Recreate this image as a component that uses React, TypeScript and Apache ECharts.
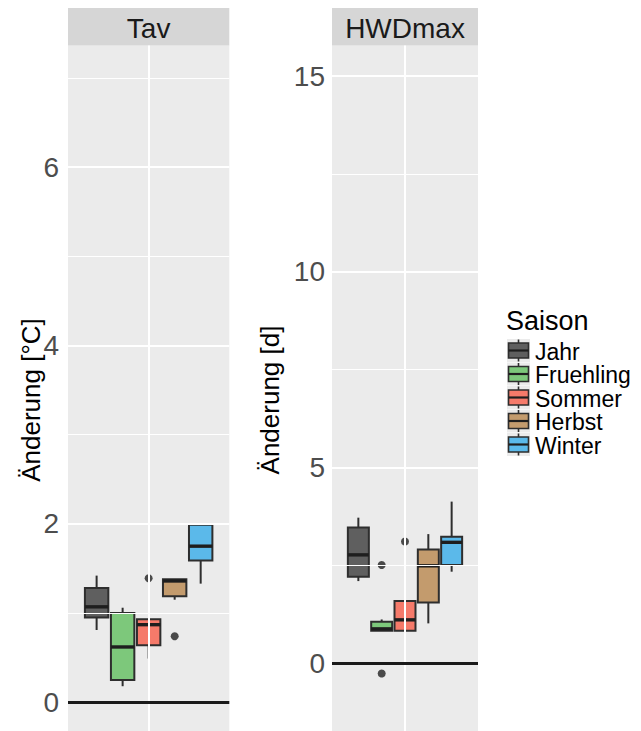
import React, { useEffect, useRef } from 'react';
import * as echarts from 'echarts';

// ---------- data ----------
const seasons = ['Jahr', 'Fruehling', 'Sommer', 'Herbst', 'Winter'];
const seasonColors = ['#5F5F5F', '#7DC87B', '#F57A6A', '#C39B6D', '#5BB9EA'];

// Tav  (Änderung [°C])
const tavLow = [0.81, 0.18, 0.49, 1.15, 1.33];
const tavQ1 = [0.95, 0.25, 0.64, 1.19, 1.59];
const tavMed = [1.07, 0.62, 0.87, 1.36, 1.75];
const tavQ3 = [1.28, 1.0, 0.93, 1.38, 1.99];
const tavHigh = [1.42, 1.06, 0.93, 1.38, 2.01];
const tavOutSeason = ['Sommer', 'Herbst'];
const tavOutValue = [1.39, 0.74];
const tavTicks = [0, 2, 4, 6];
const tavMinor = [1, 3, 5, 7];

// HWDmax (Änderung [d])
const hwdLow = [2.1, 0.83, 0.37, 1.02, 2.34];
const hwdQ1 = [2.21, 0.83, 0.83, 1.55, 2.51];
const hwdMed = [2.77, 0.88, 1.11, 2.49, 3.09];
const hwdQ3 = [3.47, 1.06, 1.59, 2.91, 3.23];
const hwdHigh = [3.72, 1.12, 1.69, 3.3, 4.13];
const hwdOutSeason = ['Fruehling', 'Fruehling', 'Sommer'];
const hwdOutValue = [2.51, -0.26, 3.11];
const hwdTicks = [0, 5, 10, 15];
const hwdMinor = [2.5, 7.5, 12.5];

const panelTitles = ['Tav', 'HWDmax'];
const axisTitles = ['Änderung [°C]', 'Änderung [d]'];
const legendTitle = 'Saison';

// ---------- styling ----------
const FONT = '"Liberation Sans", Arial, Helvetica, sans-serif';
const EDGE = '#2E2E2E';
const PANEL_BG = '#EBEBEB';
const STRIP_BG = '#D6D6D6';

const panels = [
  { left: 68, width: 161.3, xr: 3.1 },
  { left: 332, width: 146, xr: 3.13 },
];
const PANEL_TOP = 45.5;

function seasonPos(name: string) {
  return seasons.indexOf(name) - 2;
}

function boxData(low: number[], q1: number[], med: number[], q3: number[], high: number[]) {
  return seasons.map((s, i) => [seasonPos(s), low[i], q1[i], med[i], q3[i], high[i], i]);
}

function renderBox(params: any, api: any) {
  const x = api.value(0) as number;
  const ci = api.value(6) as number;
  const pLow = api.coord([x, api.value(1)]);
  const pQ1 = api.coord([x, api.value(2)]);
  const pMed = api.coord([x, api.value(3)]);
  const pQ3 = api.coord([x, api.value(4)]);
  const pHigh = api.coord([x, api.value(5)]);
  const w = api.size([0.9, 0])[0];
  const cx = pMed[0];
  const l = cx - w / 2;
  return {
    type: 'group',
    children: [
      { type: 'line', shape: { x1: cx, y1: pHigh[1], x2: cx, y2: pQ3[1] }, style: { stroke: EDGE, lineWidth: 2 } },
      { type: 'line', shape: { x1: cx, y1: pQ1[1], x2: cx, y2: pLow[1] }, style: { stroke: EDGE, lineWidth: 2 } },
      {
        type: 'rect',
        shape: { x: l, y: pQ3[1], width: w, height: pQ1[1] - pQ3[1] },
        style: { fill: seasonColors[ci], stroke: EDGE, lineWidth: 2 },
      },
      { type: 'line', shape: { x1: l, y1: pMed[1], x2: l + w, y2: pMed[1] }, style: { stroke: '#1E1E1E', lineWidth: 3.4 } },
    ],
  };
}

function helperSeries(idx: number, major: number[], minor: number[]) {
  const data: any[] = [];
  minor.forEach((v) => data.push({ yAxis: v, lineStyle: { color: '#FFFFFF', width: 1, type: 'solid' } }));
  major.forEach((v) => data.push({ yAxis: v, lineStyle: { color: '#FFFFFF', width: 2, type: 'solid' } }));
  data.push({ xAxis: 0, lineStyle: { color: '#FFFFFF', width: 2, type: 'solid' } });
  data.push({ yAxis: 0, lineStyle: { color: '#1A1A1A', width: 2.8, type: 'solid' } });
  return {
    type: 'line',
    xAxisIndex: idx,
    yAxisIndex: idx,
    data: [],
    z: 1,
    silent: true,
    markLine: {
      silent: true,
      symbol: ['none', 'none'],
      label: { show: false },
      emphasis: { disabled: true },
      animation: false,
      data,
    },
  };
}

function yAxisCfg(idx: number, min: number, max: number, ticks: number[], margin: number) {
  return {
    gridIndex: idx,
    type: 'value',
    min,
    max,
    axisLine: { show: false },
    axisTick: { show: true, length: 4, customValues: ticks, lineStyle: { color: EDGE, width: 1 } },
    axisLabel: { customValues: ticks, margin, fontSize: 28, color: '#4D4D4D', fontFamily: FONT },
    splitLine: { show: false },
  };
}

function buildOption() {
  const graphics: any[] = [];
  panels.forEach((p, i) => {
    graphics.push({
      type: 'rect',
      shape: { x: p.left, y: 8, width: p.width, height: PANEL_TOP - 8 },
      style: { fill: STRIP_BG },
      silent: true,
    });
    graphics.push({
      type: 'text',
      x: p.left + p.width / 2,
      y: 28,
      style: { text: panelTitles[i], font: `28px ${FONT}`, fill: '#1A1A1A', align: 'center', verticalAlign: 'middle' },
      silent: true,
    });
  });
  const titleX = [31, 270];
  axisTitles.forEach((t, i) => {
    graphics.push({
      type: 'text',
      x: titleX[i],
      y: 400,
      rotation: Math.PI / 2,
      style: { text: t, font: `26px ${FONT}`, fill: '#000000', align: 'center', verticalAlign: 'middle' },
      silent: true,
    });
  });
  // legend
  graphics.push({
    type: 'text',
    x: 506,
    y: 321,
    style: { text: legendTitle, font: `27px ${FONT}`, fill: '#000000', align: 'left', verticalAlign: 'middle' },
    silent: true,
  });
  seasons.forEach((s, i) => {
    const cy = 350.5 + i * 23.5;
    graphics.push({
      type: 'group',
      silent: true,
      children: [
        { type: 'rect', shape: { x: 507, y: cy - 11.5, width: 23, height: 23 }, style: { fill: '#EBEBEB' } },
        { type: 'line', shape: { x1: 518.5, y1: cy - 11, x2: 518.5, y2: cy + 11 }, style: { stroke: EDGE, lineWidth: 1.6 } },
        {
          type: 'rect',
          shape: { x: 508.5, y: cy - 7.5, width: 20, height: 15 },
          style: { fill: seasonColors[i], stroke: EDGE, lineWidth: 1.6 },
        },
        { type: 'line', shape: { x1: 508.5, y1: cy, x2: 528.5, y2: cy }, style: { stroke: '#1E1E1E', lineWidth: 2.2 } },
        {
          type: 'text',
          x: 535,
          y: cy + 1,
          style: {
            text: s,
            font: `23px ${FONT}`,
            lineHeight: 20,
            fill: '#000000',
            align: 'left',
            verticalAlign: 'middle',
          },
        },
      ],
    });
  });

  return {
    animation: false,
    backgroundColor: '#FFFFFF',
    grid: panels.map((p) => ({
      left: p.left,
      top: PANEL_TOP,
      width: p.width,
      bottom: 0,
      show: true,
      backgroundColor: PANEL_BG,
      borderWidth: 0,
      containLabel: false,
    })),
    xAxis: panels.map((p, i) => ({ gridIndex: i, type: 'value', min: -p.xr, max: p.xr, show: false })),
    yAxis: [yAxisCfg(0, -0.322, 7.363, tavTicks, 9), yAxisCfg(1, -1.729, 15.78, hwdTicks, 7)],
    series: [
      helperSeries(0, tavTicks, tavMinor),
      helperSeries(1, hwdTicks, hwdMinor),
      {
        type: 'custom',
        xAxisIndex: 0,
        yAxisIndex: 0,
        z: 3,
        data: boxData(tavLow, tavQ1, tavMed, tavQ3, tavHigh),
        encode: { x: 0, y: [1, 2, 3, 4, 5] },
        renderItem: renderBox,
        silent: true,
      },
      {
        type: 'custom',
        xAxisIndex: 1,
        yAxisIndex: 1,
        z: 3,
        data: boxData(hwdLow, hwdQ1, hwdMed, hwdQ3, hwdHigh),
        encode: { x: 0, y: [1, 2, 3, 4, 5] },
        renderItem: renderBox,
        silent: true,
      },
      {
        type: 'scatter',
        xAxisIndex: 0,
        yAxisIndex: 0,
        z: 4,
        symbolSize: 8,
        itemStyle: { color: '#222222' },
        data: tavOutSeason.map((s, i) => [seasonPos(s), tavOutValue[i]]),
        silent: true,
      },
      {
        type: 'scatter',
        xAxisIndex: 1,
        yAxisIndex: 1,
        z: 4,
        symbolSize: 8,
        itemStyle: { color: '#222222' },
        data: hwdOutSeason.map((s, i) => [seasonPos(s), hwdOutValue[i]]),
        silent: true,
      },
    ],
    graphic: graphics,
  };
}

export default function App() {
  const ref = useRef<HTMLDivElement>(null);
  useEffect(() => {
    if (!ref.current) return;
    const chart = echarts.init(ref.current, null, { renderer: 'svg' });
    chart.setOption(buildOption() as any);
    return () => chart.dispose();
  }, []);
  return <div ref={ref} style={{ position: 'absolute', left: 0, top: 0, width: 641, height: 731 }} />;
}
